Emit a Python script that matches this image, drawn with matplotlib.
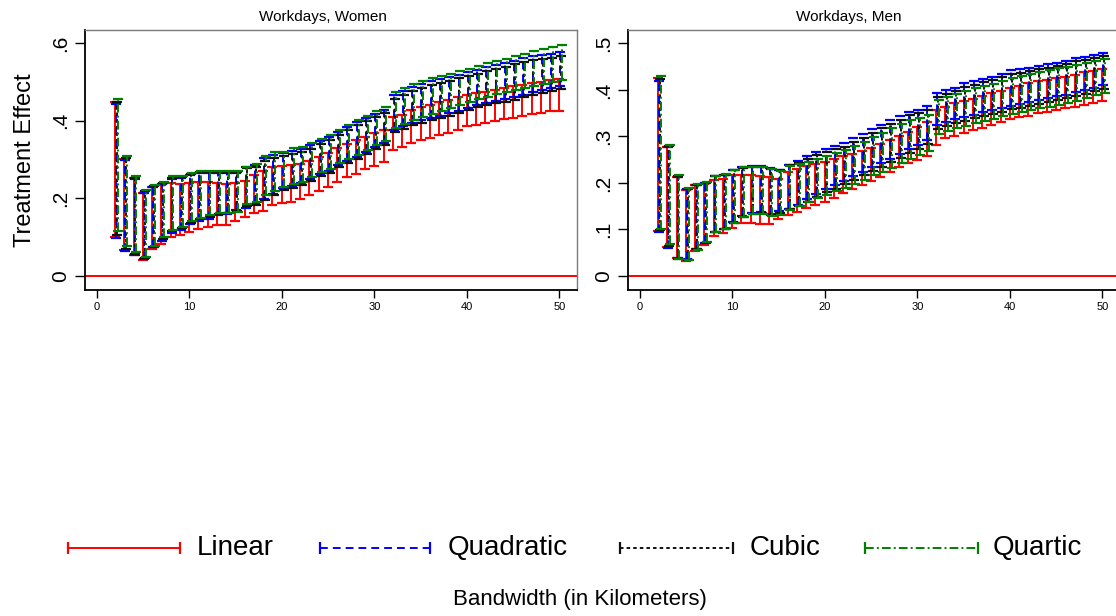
import matplotlib
matplotlib.use("Agg")
import matplotlib.pyplot as plt

plt.rcParams['font.family'] = ['Liberation Sans', 'DejaVu Sans']

# ---------------- data ----------------
bandwidth = list(range(2, 51))
series_names = ['Linear', 'Quadratic', 'Cubic', 'Quartic']
panel_titles = ['Workdays, Women', 'Workdays, Men']
women_yticks = [0, 0.2, 0.4, 0.6]
women_yticklabels = ['0', '.2', '.4', '.6']
men_yticks = [0, 0.1, 0.2, 0.3, 0.4, 0.5]
men_yticklabels = ['0', '.1', '.2', '.3', '.4', '.5']
xticks = [0, 10, 20, 30, 40, 50]

# Women: confidence interval bounds
w_lin_hi = [.447, .300, .251, .214, .228, .234, .240, .237, .238, .242, .243, .240, .237, .240, .245,
            .260, .271, .280, .283, .286, .288, .297, .307, .316, .329, .340, .350, .359, .368, .376,
            .409, .415, .428, .435, .441, .448, .454, .460, .467, .471, .475, .480, .484, .489, .493, .497, .501, .504, .507]
w_lin_lo = [.100, .066, .053, .040, .070, .083, .099, .105, .113, .120, .126, .131, .131, .142, .152,
            .162, .168, .182, .187, .191, .198, .208, .218, .230, .242, .254, .262, .275, .283, .294,
            .325, .333, .342, .350, .355, .362, .368, .376, .385, .390, .395, .400, .404, .408, .412, .416, .421, .424, .426]
w_quad_hi = [.443, .299, .249, .214, .230, .237, .249, .253, .260, .266, .266, .266, .266, .266, .280,
             .286, .303, .312, .316, .323, .326, .336, .347, .357, .370, .383, .396, .406, .417, .428,
             .467, .477, .487, .495, .502, .508, .513, .519, .525, .531, .538, .543, .549, .555, .562, .566, .570, .573, .576]
w_quad_lo = [.098, .064, .053, .042, .073, .090, .111, .119, .133, .142, .147, .156, .159, .170, .174,
             .185, .198, .212, .225, .231, .238, .250, .262, .271, .286, .297, .307, .320, .331, .342,
             .376, .385, .394, .401, .407, .413, .419, .426, .433, .440, .446, .451, .456, .461, .467, .473, .478, .484, .490]
w_cub_hi = [.448, .304, .253, .218, .231, .240, .252, .254, .262, .267, .268, .268, .267, .268, .279,
            .280, .295, .304, .308, .315, .318, .328, .339, .349, .362, .375, .388, .398, .409, .420,
            .457, .467, .477, .485, .492, .498, .503, .509, .515, .521, .528, .533, .539, .545, .552, .556, .560, .563, .566]
w_cub_lo = [.106, .070, .057, .045, .074, .094, .114, .122, .137, .146, .151, .158, .161, .167, .179,
            .183, .194, .207, .220, .226, .233, .245, .257, .266, .281, .292, .302, .315, .326, .337,
            .370, .379, .388, .395, .401, .407, .413, .420, .427, .434, .440, .445, .449, .454, .460, .466, .471, .476, .481]
w_quar_hi = [.456, .309, .257, .221, .233, .243, .256, .256, .264, .269, .271, .271, .269, .271, .281,
             .288, .309, .318, .320, .329, .332, .342, .353, .363, .376, .389, .402, .412, .424, .435,
             .475, .484, .495, .502, .510, .516, .521, .527, .533, .541, .549, .554, .559, .566, .573, .579, .585, .590, .594]
w_quar_lo = [.115, .076, .062, .049, .076, .099, .118, .126, .142, .150, .156, .161, .163, .165, .185,
             .190, .208, .219, .229, .236, .243, .255, .267, .276, .291, .302, .312, .325, .336, .347,
             .382, .392, .402, .410, .418, .425, .432, .440, .447, .455, .462, .468, .473, .478, .484, .490, .495, .501, .506]

# Men: confidence interval bounds
m_lin_hi = [.425, .277, .212, .185, .196, .197, .206, .208, .216, .217, .216, .215, .213, .208, .224,
            .229, .236, .241, .246, .251, .257, .262, .269, .276, .283, .292, .301, .310, .321, .330,
            .357, .364, .371, .375, .380, .387, .393, .398, .403, .408, .414, .418, .421, .425, .428, .432, .438, .441, .444]
m_lin_lo = [.097, .062, .039, .032, .054, .067, .086, .092, .104, .113, .115, .111, .111, .122, .131,
            .138, .146, .153, .160, .167, .178, .186, .196, .205, .213, .224, .234, .242, .249, .258,
            .282, .296, .301, .307, .314, .317, .325, .330, .337, .341, .344, .350, .353, .357, .360, .364, .367, .372, .376]
m_quad_hi = [.420, .277, .212, .187, .195, .199, .214, .218, .227, .234, .236, .236, .232, .227, .239,
             .248, .258, .266, .274, .280, .286, .296, .305, .315, .325, .335, .344, .353, .357, .365,
             .393, .400, .405, .414, .418, .423, .428, .434, .442, .444, .448, .452, .455, .458, .463, .468, .471, .475, .480]
m_quad_lo = [.094, .061, .038, .036, .059, .070, .094, .100, .116, .128, .136, .138, .133, .140, .145,
             .153, .165, .176, .188, .195, .205, .214, .224, .234, .243, .252, .262, .272, .282, .292,
             .324, .331, .337, .342, .347, .352, .356, .361, .366, .370, .374, .378, .382, .386, .390, .395, .400, .405, .410]
m_cub_hi = [.424, .280, .214, .188, .196, .200, .214, .218, .227, .233, .235, .235, .231, .227, .238,
            .242, .251, .259, .266, .272, .278, .288, .297, .307, .317, .327, .336, .345, .350, .357,
            .385, .392, .398, .406, .411, .416, .421, .427, .434, .437, .441, .445, .448, .451, .456, .461, .464, .468, .473]
m_cub_lo = [.099, .064, .037, .035, .058, .071, .094, .100, .115, .127, .134, .136, .132, .136, .143,
            .150, .160, .170, .181, .188, .197, .206, .216, .226, .235, .244, .254, .264, .274, .284,
            .316, .323, .329, .334, .339, .344, .348, .353, .358, .362, .366, .370, .374, .378, .382, .387, .392, .397, .402]
m_quar_hi = [.430, .282, .216, .190, .198, .201, .215, .219, .228, .234, .235, .234, .229, .226, .237,
             .240, .246, .252, .258, .264, .270, .279, .288, .298, .307, .317, .326, .335, .340, .347,
             .378, .385, .392, .398, .403, .408, .413, .419, .426, .430, .434, .438, .442, .446, .450, .454, .458, .462, .466]
m_quar_lo = [.102, .068, .037, .034, .057, .073, .095, .101, .115, .126, .133, .133, .130, .131, .142,
             .150, .160, .168, .175, .182, .190, .198, .207, .216, .224, .233, .242, .251, .260, .268,
             .305, .312, .318, .323, .328, .333, .338, .343, .348, .352, .356, .360, .364, .368, .372, .377, .382, .388, .393]

women = [(w_lin_lo, w_lin_hi), (w_quad_lo, w_quad_hi), (w_cub_lo, w_cub_hi), (w_quar_lo, w_quar_hi)]
men = [(m_lin_lo, m_lin_hi), (m_quad_lo, m_quad_hi), (m_cub_lo, m_cub_hi), (m_quar_lo, m_quar_hi)]

# ---------------- style ----------------
colors = ['#ff0000', '#0000ff', '#111111', '#008000']
x_offsets = [0.0, 0.1, 0.2, 0.3]
styles = ['-', (0, (4, 2.6)), (0, (1.8, 1.6)), (0, (4.5, 1.6, 1.0, 1.6))]
W, H = 1116, 616
LW = 1.4

fig = plt.figure(figsize=(W / 100, H / 100), dpi=100)
fig.patch.set_facecolor('white')


def px_axes(left, top, right, bottom):
    return fig.add_axes([left / W, 1 - bottom / H, (right - left) / W, (bottom - top) / H])


ax_w = px_axes(85, 30, 577, 290)
ax_m = px_axes(628, 30, 1120, 290)

panels = [
    (ax_w, women, (-0.037, 0.634), women_yticks, women_yticklabels),
    (ax_m, men, (-0.030, 0.5286), men_yticks, men_yticklabels),
]

for ax, data, ylim, yt, ytl in panels:
    ax.axhline(0, color='#ff0000', lw=1.4, zorder=1)
    for k, (lo, hi) in enumerate(data):
        xs = [b + x_offsets[k] for b in bandwidth]
        ax.vlines(xs, lo, hi, colors=colors[k], linestyles=styles[k], lw=LW, zorder=2 + k)
        ax.plot(xs, lo, ls='none', marker='_', ms=6.5, mew=1.6, color=colors[k], zorder=2 + k)
        ax.plot(xs, hi, ls='none', marker='_', ms=6.5, mew=1.6, color=colors[k], zorder=2 + k)
    ax.set_xlim(-1.25, 51.9)
    ax.set_ylim(*ylim)
    ax.set_xticks(xticks)
    ax.set_xticklabels([str(t) for t in xticks], fontsize=8)
    ax.set_yticks(yt)
    ax.set_yticklabels(ytl, fontsize=15, rotation=90, va='center')
    ax.tick_params(axis='x', length=6, width=1, pad=3, direction='out')
    ax.tick_params(axis='y', length=7, width=1, pad=4, direction='out')
    for s in ['left', 'bottom']:
        ax.spines[s].set_color('black')
        ax.spines[s].set_linewidth(1.3)
    for s in ['top', 'right']:
        ax.spines[s].set_color('#7a7a7a')
        ax.spines[s].set_linewidth(1.0)

fig.text(323 / W, 1 - 17 / H, panel_titles[0], ha='center', va='center', fontsize=11)
fig.text(849 / W, 1 - 17 / H, panel_titles[1], ha='center', va='center', fontsize=11)
fig.text(25 / W, 1 - 160 / H, 'Treatment Effect', rotation=90, ha='center', va='center', fontsize=17)
fig.text(580 / W, 1 - 600 / H, 'Bandwidth (in Kilometers)', ha='center', va='center', fontsize=16)

# legend drawn in pixel coordinates
lax = fig.add_axes([0, 0, 1, 1], zorder=10)
lax.set_xlim(0, W)
lax.set_ylim(H, 0)
lax.axis('off')
leg_handles = [(68, 180), (320, 430), (620, 733), (865, 978)]
leg_text_x = [197, 448, 750, 993]
ly = 548
for k, name in enumerate(series_names):
    x0, x1 = leg_handles[k]
    lax.plot([x0, x1], [ly, ly], color=colors[k], ls=styles[k], lw=LW)
    lax.plot([x0, x1], [ly, ly], ls='none', marker='|', ms=9, mew=1.6, color=colors[k])
    lax.text(leg_text_x[k], ly, name, fontsize=20, ha='left', va='center')

fig.savefig('out.png', dpi=100, facecolor='white')
